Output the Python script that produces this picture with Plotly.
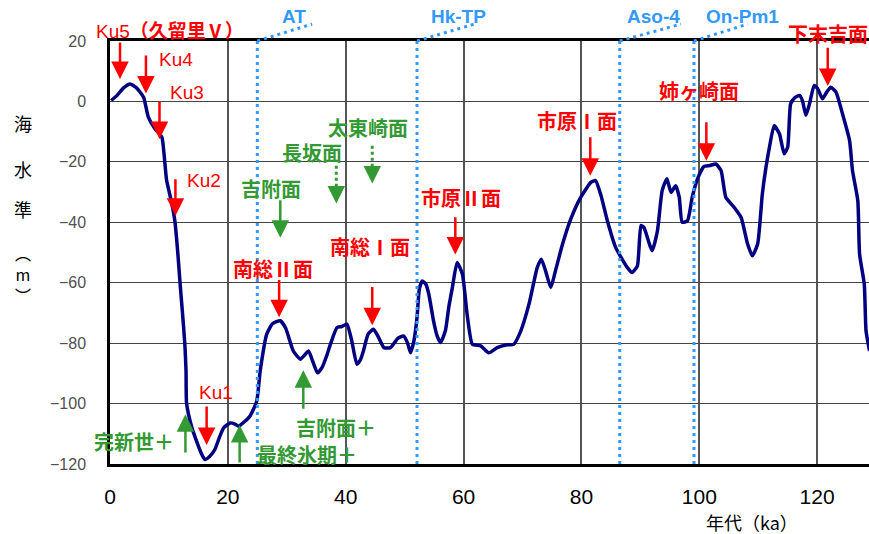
import plotly.graph_objects as go

# Relative sea level curve over the last ~130 ka
age_ka = [
    0.2, 1.2, 2.3, 3.4, 4.5, 5.7, 6.5, 7.6, 8.8, 9.2, 9.6, 10.4, 11.0, 11.5, 11.9,
    12.3, 12.7, 12.9, 13.0, 13.9, 14.8, 15.5, 16.1, 16.9, 17.8, 18.6, 19.3, 20.4,
    21.2, 21.8, 22.8, 23.8, 24.9, 25.5, 26.6, 27.6, 28.9, 29.8, 31.1, 32.3, 33.0,
    33.7, 34.4, 35.2, 36.0, 36.8, 37.4, 38.5, 39.3, 40.2, 41.0, 41.9, 42.5, 43.0,
    43.8, 44.7, 45.5, 46.5, 47.6, 48.8, 49.8, 50.5, 51.0, 51.6, 52.1, 52.5, 53.0,
    53.6, 54.1, 54.9, 55.5, 56.1, 56.9, 57.5, 58.1, 58.9, 59.8, 60.6, 61.5, 62.9,
    64.3, 65.7, 67.2, 68.5, 69.7, 71.1, 72.5, 73.2, 73.9, 74.8, 75.6, 76.8, 78.2,
    79.9, 81.6, 82.4, 83.3, 84.4, 85.8, 87.8, 88.6, 89.5, 90.1, 90.6, 92.0, 92.9,
    93.7, 94.5, 95.2, 96.0, 96.6, 97.1, 98.0, 98.8, 99.7, 100.8, 101.8, 102.8,
    103.7, 104.5, 105.9, 107.1, 108.2, 109.0, 109.9, 110.7, 111.3, 111.9, 112.7,
    113.6, 114.4, 115.0, 115.5, 116.2, 117.0, 117.5, 118.1, 118.7, 119.5, 120.1,
    120.9, 121.6, 122.3, 123.2, 124.3, 125.5, 126.0, 126.9, 127.2, 128.0, 128.3,
    128.9,
]
sea_level_m = [
    0.3, 2.0, 4.5, 5.8, 4.5, 1.4, -5.2, -9.0, -11.8, -18.0, -26.0, -33.0, -39.5,
    -50.0, -60.5, -70.0, -80.3, -89.0, -100.0, -108.0, -113.0, -116.5, -118.5,
    -117.5, -115.2, -111.0, -108.0, -106.4, -106.8, -107.5, -106.0, -104.0, -99.2,
    -89.0, -77.0, -73.5, -72.6, -75.0, -82.6, -85.3, -84.0, -82.6, -86.0, -89.8,
    -88.0, -84.0, -80.4, -74.9, -74.5, -73.7, -79.0, -87.0, -85.5, -82.6, -77.0,
    -75.4, -77.8, -81.5, -81.5, -78.5, -77.6, -80.0, -83.2, -79.0, -71.5, -62.0,
    -59.4, -60.5, -63.8, -72.6, -77.5, -79.8, -76.0, -68.0, -61.6, -53.3, -57.1,
    -70.4, -80.4, -80.9, -83.2, -81.5, -80.6, -80.4, -76.0, -67.1, -55.0, -52.2,
    -56.0, -61.6, -56.0, -47.2, -38.9, -31.7, -26.8, -26.2, -31.0, -39.5, -48.3,
    -55.0, -56.6, -54.4, -41.1, -41.7, -49.4, -42.8, -29.5, -25.6, -30.1, -27.9,
    -31.7, -40.0, -39.5, -31.7, -25.6, -21.5, -21.2, -20.7, -22.9, -31.7, -35.0,
    -38.4, -47.2, -51.1, -47.2, -30.6, -22.0, -15.2, -8.0, -10.7, -17.3, -15.2,
    -0.8, 1.2, 2.0, 0.3, -4.6, -0.8, 5.3, 4.2, 0.9, 3.0, 4.7, 3.1, -4.1, -12.9,
    -22.9, -32.8, -50.5, -60.5, -76.0, -82.6,
]

x_ticks = [0, 20, 40, 60, 80, 100, 120]
y_ticks = [20, 0, -20, -40, -60, -80, -100, -120]
Y_MIN, Y_MAX = -120, 20

# Tephra marker layers: name, age (ka), label centre (ka), end of leader (ka)
tephra_names = ["AT", "Hk-TP", "Aso-4", "On-Pm1"]
tephra_age = [25.0, 52.1, 86.5, 99.1]
tephra_label_x = [31.3, 59.1, 92.2, 107.4]
tephra_leader_x = [34.3, 61.8, 96.9, 108.2]

# Terrace / marine stage arrows: (age of tip, level of tip, level of tail)
red_arrows = [
    (1.7, 7.4, 20.0), (6.1, 2.6, 15.7), (8.4, -12.4, 0.5), (11.1, -37.8, -25.3),
    (16.4, -113.7, -100.5), (28.7, -71.4, -58.6), (44.5, -74.1, -60.9),
    (58.6, -50.7, -37.8), (81.5, -24.6, -11.4), (101.2, -19.6, -6.4),
    (121.8, 5.1, 18.3),
]
green_arrows = [
    (28.9, -45.1, -32.2), (32.8, -89.0, -102.2), (12.8, -103.5, -116.7),
    (22.0, -107.1, -120.0),
]
green_dotted_arrows = [(44.5, -27.2, -14.7), (38.4, -33.8, -21.3)]

# Text labels: text, x (ka), y (m), colour, bold, size
RED = "#ff0000"
GREEN = "#339933"
labels = [
    ("Ku5<b>（久留里Ⅴ）</b>", 10.1, 23.3, RED, False, 19),
    ("Ku4", 11.2, 14.0, RED, False, 19),
    ("Ku3", 13.0, 2.8, RED, False, 19),
    ("Ku2", 16.0, -26.2, RED, False, 19),
    ("Ku1", 18.0, -96.2, RED, False, 19),
    ("南総Ⅱ面", 27.6, -55.3, RED, True, 20),
    ("南総Ⅰ面", 44.2, -48.0, RED, True, 20),
    ("市原Ⅱ面", 59.5, -31.9, RED, True, 20),
    ("市原Ⅰ面", 79.3, -6.4, RED, True, 20),
    ("姉ヶ崎面", 100.0, 3.5, RED, True, 20),
    ("下末吉面", 121.8, 22.6, RED, True, 20),
    ("太東崎面", 43.8, -8.7, GREEN, True, 20),
    ("長坂面", 34.2, -17.0, GREEN, True, 20),
    ("吉附面", 27.4, -28.9, GREEN, True, 20),
    ("吉附面＋", 38.4, -107.8, GREEN, True, 20),
    ("完新世＋", 4.1, -112.4, GREEN, True, 20),
    ("最終氷期＋", 33.5, -117.0, GREEN, True, 20),
]

CJK = "Noto Sans CJK JP"
BLUE = "#3399ff"


def to_paper(level):
    return (level - Y_MIN) / (Y_MAX - Y_MIN)


fig = go.Figure()
fig.add_trace(go.Scatter(
    x=age_ka, y=sea_level_m, mode="lines",
    line=dict(color="#000080", width=3.5, shape="spline", smoothing=0.5),
    hoverinfo="skip", showlegend=False,
))

shapes = []
annotations = []

# Tephra dotted lines with slanted leaders up to their labels
for name, age, lx, ex in zip(tephra_names, tephra_age, tephra_label_x, tephra_leader_x):
    shapes.append(dict(type="line", xref="x", yref="paper", x0=age, x1=age, y0=0, y1=1,
                       line=dict(color=BLUE, width=3, dash="3px,4px")))
    shapes.append(dict(type="line", xref="x", yref="paper", x0=age, x1=ex, y0=1.0, y1=1.040,
                       line=dict(color=BLUE, width=3, dash="3px,4px")))
    annotations.append(dict(x=lx, y=1.058, xref="x", yref="paper", text="<b>" + name + "</b>",
                            showarrow=False, xanchor="center", yanchor="middle",
                            font=dict(family="Arial, Liberation Sans", size=19, color=BLUE)))


def arrow(x, tip, tail, color):
    return dict(x=x, y=tip, ax=x, ay=tail, xref="x", yref="y", axref="x", ayref="y",
                text="", showarrow=True, arrowhead=2, arrowsize=1.4, arrowwidth=2.5,
                arrowcolor=color)


for x, tip, tail in red_arrows:
    annotations.append(arrow(x, tip, tail, RED))
for x, tip, tail in green_arrows:
    annotations.append(arrow(x, tip, tail, GREEN))
for x, tip, tail in green_dotted_arrows:
    shapes.append(dict(type="line", xref="x", yref="y", x0=x, x1=x, y0=tail, y1=tip + 3,
                       line=dict(color=GREEN, width=3, dash="3px,3px")))
    annotations.append(arrow(x, tip, tip + 3.5, GREEN))

for text, x, y, color, bold, size in labels:
    if bold:
        text = "<b>" + text + "</b>"
    annotations.append(dict(x=x, y=to_paper(y), xref="x", yref="paper", text=text,
                            showarrow=False, xanchor="center", yanchor="middle",
                            font=dict(family=CJK if bold else "Arial, " + CJK,
                                      size=size, color=color)))

# Vertical axis title, stacked characters
for ch, py in [("海", 0.805), ("水", 0.697), ("準", 0.603)]:
    annotations.append(dict(x=-0.115, y=py, xref="paper", yref="paper", text=ch, showarrow=False,
                            xanchor="center", yanchor="middle",
                            font=dict(family=CJK, size=18, color="#000000")))
annotations.append(dict(x=-0.115, y=0.450, xref="paper", yref="paper", text="︵<br>m<br>︶",
                        showarrow=False, xanchor="center", yanchor="middle",
                        font=dict(family=CJK, size=16, color="#000000")))

annotations.append(dict(x=0.846, y=-0.137, xref="paper", yref="paper", text="年代（ka）",
                        showarrow=False, xanchor="center", yanchor="middle",
                        font=dict(family=CJK, size=18, color="#000000")))

fig.update_layout(
    width=869, height=534,
    margin=dict(l=110, r=0, t=41, b=70),
    paper_bgcolor="white", plot_bgcolor="white",
    shapes=shapes, annotations=annotations,
    showlegend=False,
)
fig.update_xaxes(
    range=[0, 128.8], tickvals=x_ticks, ticks="", ticklabelstandoff=12,
    tickfont=dict(family="Arial, Liberation Sans", size=21, color="#000000"),
    showgrid=True, gridcolor="#555555", gridwidth=1.5,
    showline=True, linecolor="#000000", linewidth=2.5, mirror=True, zeroline=False,
)
fig.update_yaxes(
    range=[Y_MIN, Y_MAX], tickvals=y_ticks, ticks="", ticklabelstandoff=18,
    tickfont=dict(family="Arial, Liberation Sans", size=16, color="#505050"),
    showgrid=True, gridcolor="#444444", gridwidth=1.2,
    showline=True, linecolor="#000000", linewidth=2.5, zeroline=False,
)

fig.write_html("out.html")
